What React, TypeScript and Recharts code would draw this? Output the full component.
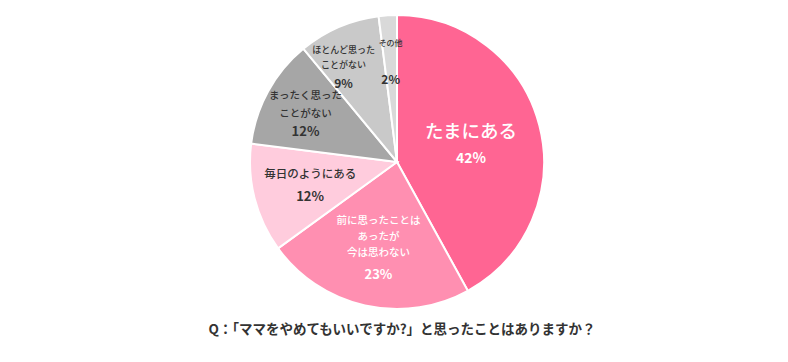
import React from "react";
import { PieChart, Pie, Cell } from "recharts";

const categories = [
  "たまにある",
  "前に思ったことはあったが今は思わない",
  "毎日のようにある",
  "まったく思ったことがない",
  "ほとんど思ったことがない",
  "その他",
];
const values = [42, 23, 12, 12, 9, 2];
const labelLines = [
  ["たまにある"],
  ["前に思ったことは", "あったが", "今は思わない"],
  ["毎日のようにある"],
  ["まったく思った", "ことがない"],
  ["ほとんど思った", "ことがない"],
  ["その他"],
];
const colors = ["#FF6593", "#FF8FB1", "#FFCCDD", "#A6A6A6", "#C9C9C9", "#D9D9D9"];
const textColors = ["#FFFFFF", "#FFFFFF", "#333333", "#333333", "#333333", "#333333"];
const title = "Q：「ママをやめてもいいですか?」と思ったことはありますか？";

// label layout styles per slice
const labelRadius = [0.52, 0.58, 0.61, 0.71, 0.74, 0.69];
const labelAngleShift = [0, 0, 0, 0, 6, 0];
const lineOffsets = [
  [-13, 14],
  [-26, -10, 6, 28],
  [-11, 11],
  [-17, 1, 19],
  [-18, -3, 15],
  [-18, 18],
];
const nameFont = [18.5, 10.5, 11.5, 10.5, 9, 8];
const pctFont = [14, 13, 13, 13, 12, 12];

const data = categories.map((c, i) => ({ name: c, value: values[i] }));
const RADIAN = Math.PI / 180;
const FONT = "'Noto Sans CJK JP', 'Noto Sans', sans-serif";

const renderLabel = (props: any) => {
  const { cx, cy, midAngle, outerRadius, index } = props;
  const ang = (midAngle + labelAngleShift[index]) * RADIAN;
  const r = outerRadius * labelRadius[index];
  const x = cx + r * Math.cos(ang);
  const y = cy - r * Math.sin(ang);
  const lines = labelLines[index];
  const offs = lineOffsets[index];
  return (
    <g>
      {lines.map((t, k) => (
        <text
          key={k}
          x={x}
          y={y + offs[k]}
          textAnchor="middle"
          dominantBaseline="central"
          fill={textColors[index]}
          fontSize={nameFont[index]}
          fontWeight={500}
          fontFamily={FONT}
        >
          {t}
        </text>
      ))}
      <text
        x={x}
        y={y + offs[lines.length]}
        textAnchor="middle"
        dominantBaseline="central"
        fill={textColors[index]}
        fontSize={pctFont[index]}
        fontWeight={700}
        fontFamily={FONT}
      >
        {values[index] + "%"}
      </text>
    </g>
  );
};

export default function App() {
  return (
    <div style={{ position: "absolute", left: 0, top: 0, width: 788, height: 362, background: "#fff" }}>
      <PieChart width={788} height={362} margin={{ top: 0, right: 0, bottom: 0, left: 0 }}>
        <Pie
          data={data}
          dataKey="value"
          cx={397}
          cy={162}
          outerRadius={147}
          startAngle={90}
          endAngle={-270}
          stroke="#FFFFFF"
          strokeWidth={2}
          label={renderLabel}
          labelLine={false}
          isAnimationActive={false}
        >
          {data.map((d, i) => (
            <Cell key={d.name} fill={colors[i]} />
          ))}
        </Pie>
        <text
          x={402}
          y={328}
          textAnchor="middle"
          dominantBaseline="central"
          fontSize={13.5}
          fontWeight={700}
          fill="#333333"
          fontFamily={FONT}
        >
          {title}
        </text>
      </PieChart>
    </div>
  );
}
